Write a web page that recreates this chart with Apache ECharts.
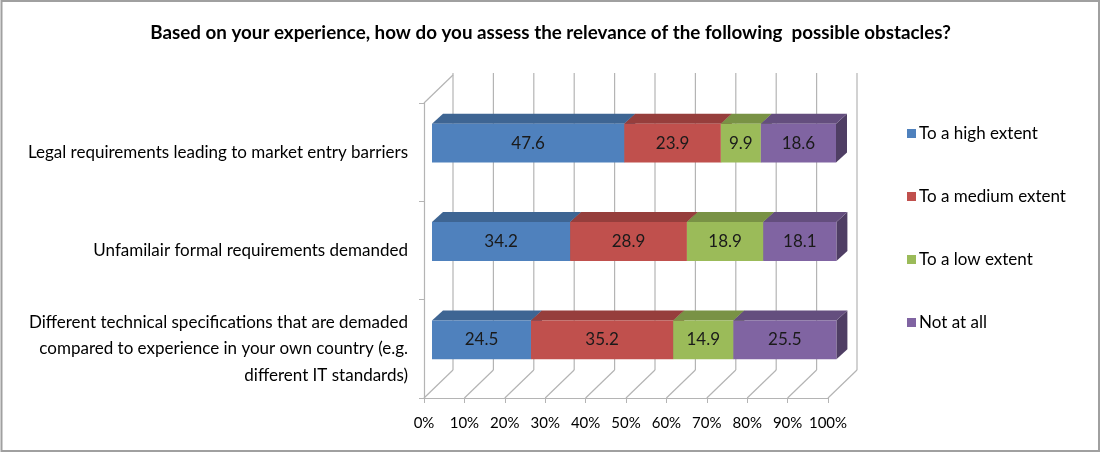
<!DOCTYPE html>
<html>
<head>
<meta charset="utf-8">
<script src="https://cdn.jsdelivr.net/npm/echarts@6/dist/echarts.min.js"></script>
<style>
  html, body { margin: 0; padding: 0; background: #ffffff; }
  #chart { width: 1101px; height: 453px; }
</style>
</head>
<body>
<div id="chart"></div>
<script>
// Survey categories (top to bottom) and the share of answers for each level.
const categories = [
  'Legal requirements leading to market entry barriers',
  'Unfamilair formal requirements demanded',
  'Different technical specifications that are demaded\ncompared to experience in your own country (e.g.\ndifferent IT standards)'
];
const seriesNames = ['To a high extent', 'To a medium extent', 'To a low extent', 'Not at all'];
const highExtent   = [47.6, 34.2, 24.5];
const mediumExtent = [23.9, 28.9, 35.2];
const lowExtent    = [9.9, 18.9, 14.9];
const notAtAll     = [18.6, 18.1, 25.5];
const percentTicks = [0, 10, 20, 30, 40, 50, 60, 70, 80, 90, 100];

const seriesValues = [highExtent, mediumExtent, lowExtent, notAtAll];
const faceColors = ['#4F81BD', '#C0504D', '#9BBB59', '#8064A2'];

// Oblique projection used for the pseudo-3D look (pixels).
const WALL_DX = 29, WALL_DY = -28;   // front floor edge -> back wall
const FACE_DX = 8,  FACE_DY = -9;    // front floor edge -> bar front face
const BAR_DX = 11,  BAR_DY = -10;    // bar depth
const BAR_FRACTION = 0.395;          // bar thickness relative to category band
const GRID_COLOR = '#b4b4b4';
const FONT = 'Lato, "Open Sans", sans-serif';

function shade(hex, f) {
  const n = parseInt(hex.slice(1), 16);
  const r = Math.round(((n >> 16) & 255) * f);
  const g = Math.round(((n >> 8) & 255) * f);
  const b = Math.round((n & 255) * f);
  return 'rgb(' + r + ',' + g + ',' + b + ')';
}

// Back wall, floor and left wall lines, one group per percentage tick.
function renderWalls(params, api) {
  const v = api.value(0);
  const cs = params.coordSys;
  const x = api.coord([v, 0])[0];
  const yb = cs.y + cs.height;
  const yt = cs.y;
  const style = { stroke: GRID_COLOR, lineWidth: 1.2 };
  const children = [
    { type: 'line', shape: { x1: x, y1: yb, x2: x + WALL_DX, y2: yb + WALL_DY }, style: style },
    { type: 'line', shape: { x1: x + WALL_DX, y1: yb + WALL_DY, x2: x + WALL_DX, y2: yt + WALL_DY - 2 }, style: style }
  ];
  if (v === percentTicks[0]) {
    children.push({ type: 'line', shape: { x1: x, y1: yt, x2: x + WALL_DX, y2: yt + WALL_DY }, style: style });
  }
  return { type: 'group', children: children };
}

// One stacked box segment: front face, top face and right side face.
function makeBoxRenderer(color) {
  const topColor = shade(color, 0.78);
  const sideColor = shade(color, 0.62);
  return function (params, api) {
    const cat = api.value(0);
    const start = api.value(1);
    const val = api.value(2);
    const p0 = api.coord([start, cat]);
    const p1 = api.coord([start + val, cat]);
    const band = api.size([0, 1])[1];
    const h = band * BAR_FRACTION;
    const x0 = p0[0] + FACE_DX, x1 = p1[0] + FACE_DX;
    const yc = p0[1] + FACE_DY;
    const y0 = yc - h / 2, y1 = yc + h / 2;
    return {
      type: 'group',
      children: [
        { type: 'polygon', shape: { points: [[x1, y0], [x1 + BAR_DX, y0 + BAR_DY], [x1 + BAR_DX, y1 + BAR_DY], [x1, y1]] },
          style: { fill: sideColor } },
        { type: 'polygon', shape: { points: [[x0, y0], [x1, y0], [x1 + BAR_DX, y0 + BAR_DY], [x0 + BAR_DX, y0 + BAR_DY]] },
          style: { fill: topColor } },
        { type: 'rect', shape: { x: x0, y: y0, width: x1 - x0, height: y1 - y0 },
          style: { fill: color } },
        { type: 'text', x: (x0 + x1) / 2, y: yc,
          style: { text: String(val), fill: '#1a1a1a', font: '17px ' + FONT, align: 'center', verticalAlign: 'middle' } }
      ]
    };
  };
}

const series = [{
  type: 'custom',
  name: 'walls',
  silent: true,
  z: 1,
  renderItem: renderWalls,
  data: percentTicks.map(function (t) { return [t, 0]; })
}];

const running = categories.map(function () { return 0; });
seriesValues.forEach(function (vals, si) {
  const data = vals.map(function (v, ci) {
    const item = [ci, running[ci], v];
    running[ci] += v;
    return item;
  });
  series.push({
    type: 'custom',
    name: seriesNames[si],
    z: 2 + si,
    itemStyle: { color: faceColors[si] },
    encode: { x: [1, 2], y: 0 },
    renderItem: makeBoxRenderer(faceColors[si]),
    data: data
  });
});

const chart = echarts.init(document.getElementById('chart'), null, { renderer: 'canvas' });
chart.setOption({
  animation: false,
  backgroundColor: '#ffffff',
  title: {
    text: 'Based on your experience, how do you assess the relevance of the following  possible obstacles?',
    left: 'center',
    top: 18,
    textStyle: { fontFamily: FONT, fontSize: 18.8, fontWeight: 'bold', color: '#000000' }
  },
  graphic: [{
    type: 'rect',
    shape: { x: 1.5, y: 1, width: 1097.5, height: 450 },
    style: { fill: null, stroke: '#a0a0a0', lineWidth: 2 },
    silent: true
  }],
  legend: {
    orient: 'vertical',
    left: 902,
    top: 120,
    itemWidth: 9,
    itemHeight: 9,
    itemGap: 46,
    icon: 'rect',
    data: seriesNames,
    textStyle: { fontFamily: FONT, fontSize: 17, color: '#000000', padding: [0, 0, 0, -2] }
  },
  grid: { left: 424, right: 273, top: 103, bottom: 55 },
  xAxis: {
    type: 'value',
    min: 0,
    max: 100,
    interval: 10,
    axisLine: { show: true, lineStyle: { color: GRID_COLOR, width: 1.2 } },
    axisTick: { show: true, length: 5, lineStyle: { color: GRID_COLOR } },
    splitLine: { show: false },
    axisLabel: { formatter: '{value}%', margin: 18, fontFamily: FONT, fontSize: 15, color: '#000000' }
  },
  yAxis: {
    type: 'category',
    inverse: true,
    data: categories,
    axisLine: { show: true, lineStyle: { color: GRID_COLOR, width: 1.2 } },
    axisTick: { show: true, length: 5, lineStyle: { color: GRID_COLOR } },
    splitLine: { show: false },
    axisLabel: { margin: 16, fontFamily: FONT, fontSize: 17, color: '#000000', lineHeight: 26.5, align: 'right' }
  },
  series: series
});
</script>
</body>
</html>
